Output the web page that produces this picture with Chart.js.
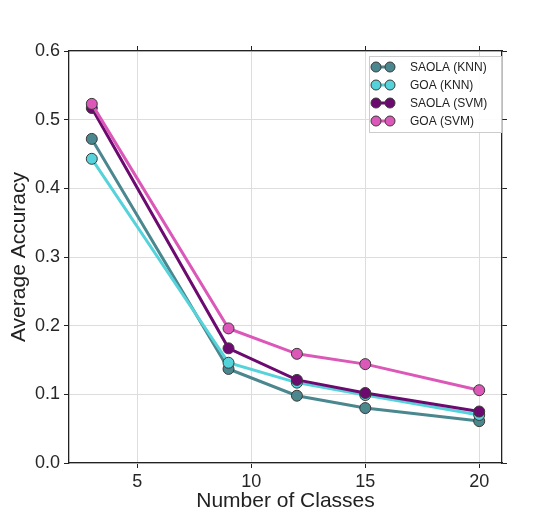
<!DOCTYPE html>
<html>
<head>
<meta charset="utf-8">
<script src="https://cdn.jsdelivr.net/npm/chart.js@4.4.1/dist/chart.umd.min.js"></script>
<style>
  html, body { margin: 0; padding: 0; background: #fff; }
  #wrap { width: 557px; height: 515px; }
</style>
</head>
<body>
<div id="wrap"><canvas id="accChart" width="557" height="515"></canvas></div>
<script>
const classes = [3, 9, 12, 15, 20];
const saolaKnn = [0.472, 0.137, 0.098, 0.080, 0.061];
const goaKnn = [0.443, 0.146, 0.117, 0.099, 0.070];
const saolaSvm = [0.517, 0.167, 0.121, 0.102, 0.075];
const goaSvm = [0.523, 0.196, 0.159, 0.144, 0.106];
const seriesNames = ['SAOLA (KNN)', 'GOA (KNN)', 'SAOLA (SVM)', 'GOA (SVM)'];
const xTicks = [5, 10, 15, 20];
const yTicks = [0, 0.1, 0.2, 0.3, 0.4, 0.5, 0.6];

const colors = ['#4b878e', '#56d3da', '#6c0a70', '#dc58b8'];
const font = 'Liberation Sans, Arial, sans-serif';

function series(values) {
    return values.map((v, i) => ({ x: classes[i], y: v }));
}

const allValues = [saolaKnn, goaKnn, saolaSvm, goaSvm];
const datasets = allValues.map((vals, i) => ({
    label: seriesNames[i],
    data: series(vals),
    borderColor: colors[i],
    backgroundColor: colors[i],
    borderWidth: 3,
    pointRadius: 5.5,
    pointBorderColor: '#3a3a3a',
    pointBorderWidth: 1,
    pointBackgroundColor: colors[i],
    order: 4 - i,
    fill: false
}));

// legend drawn inside the plot, top right
const insideLegend = {
    id: 'insideLegend',
    afterDraw(chart) {
        const ctx = chart.ctx;
        const area = chart.chartArea;
        const w = 132, h = 76;
        const x0 = area.right - w - 1, y0 = area.top + 5;
        ctx.save();
        ctx.fillStyle = 'rgba(255,255,255,0.9)';
        ctx.strokeStyle = '#cccccc';
        ctx.lineWidth = 1;
        ctx.fillRect(x0, y0, w, h);
        ctx.strokeRect(x0 + 0.5, y0 + 0.5, w, h);
        chart.data.datasets.forEach((ds, i) => {
            const y = y0 + 11 + i * 18;
            ctx.strokeStyle = ds.borderColor;
            ctx.lineWidth = 3;
            ctx.beginPath();
            ctx.moveTo(x0 + 7, y);
            ctx.lineTo(x0 + 21, y);
            ctx.stroke();
            [x0 + 7, x0 + 21].forEach(cx => {
                ctx.beginPath();
                ctx.arc(cx, y, 5, 0, Math.PI * 2);
                ctx.fillStyle = ds.borderColor;
                ctx.fill();
                ctx.lineWidth = 1;
                ctx.strokeStyle = '#3a3a3a';
                ctx.stroke();
                ctx.strokeStyle = ds.borderColor;
                ctx.lineWidth = 3;
            });
            ctx.fillStyle = '#222';
            ctx.font = '12px ' + font;
            ctx.textBaseline = 'middle';
            ctx.fillText(ds.label, x0 + 41, y + 1);
        });
        ctx.restore();
    }
};

const ctx = document.getElementById('accChart').getContext('2d');
const accChart = new Chart(ctx, {
    type: 'line',
    data: { datasets: datasets },
    options: {
        responsive: false,
        animation: false,
        layout: { padding: { top: 45, right: 49, left: 0, bottom: 0 } },
        plugins: { legend: { display: false }, tooltip: { enabled: false } },
        scales: {
            x: {
                type: 'linear', position: 'bottom', min: 2, max: 21,
                afterBuildTicks: s => { s.ticks = xTicks.map(v => ({ value: v })); },
                afterFit: s => { s.height = 52; },
                grid: { color: '#dddddd', tickColor: '#222', tickLength: 5, lineWidth: 1 },
                border: { color: '#222', width: 1.3 },
                ticks: { color: '#262626', font: { family: font, size: 18 }, padding: 3 },
                title: { display: true, text: 'Number of Classes', color: '#222',
                         font: { family: font, size: 21 }, padding: { top: 0, bottom: 1 } }
            },
            y: {
                type: 'linear', position: 'left', min: 0, max: 0.6,
                afterBuildTicks: s => { s.ticks = yTicks.map(v => ({ value: v })); },
                afterFit: s => { s.width = 69; },
                grid: { color: '#dddddd', tickColor: '#222', tickLength: 5, lineWidth: 1 },
                border: { color: '#222', width: 1.3 },
                ticks: { color: '#262626', font: { family: font, size: 18 }, padding: 4,
                         callback: v => v.toFixed(1) },
                title: { display: true, text: 'Average Accuracy', color: '#222',
                         font: { family: font, size: 21 }, padding: { top: 7, bottom: 0 } }
            },
            x2: {
                type: 'linear', position: 'top', min: 2, max: 21,
                afterBuildTicks: s => { s.ticks = xTicks.map(v => ({ value: v })); },
                afterFit: s => { s.height = 6; },
                grid: { drawOnChartArea: false, tickColor: '#222', tickLength: 5 },
                border: { color: '#222', width: 1.3 },
                ticks: { display: false }
            },
            y2: {
                type: 'linear', position: 'right', min: 0, max: 0.6,
                afterBuildTicks: s => { s.ticks = yTicks.map(v => ({ value: v })); },
                afterFit: s => { s.width = 6; },
                grid: { drawOnChartArea: false, tickColor: '#222', tickLength: 5 },
                border: { color: '#222', width: 1.3 },
                ticks: { display: false }
            }
        }
    },
    plugins: [insideLegend]
});
</script>
</body>
</html>
